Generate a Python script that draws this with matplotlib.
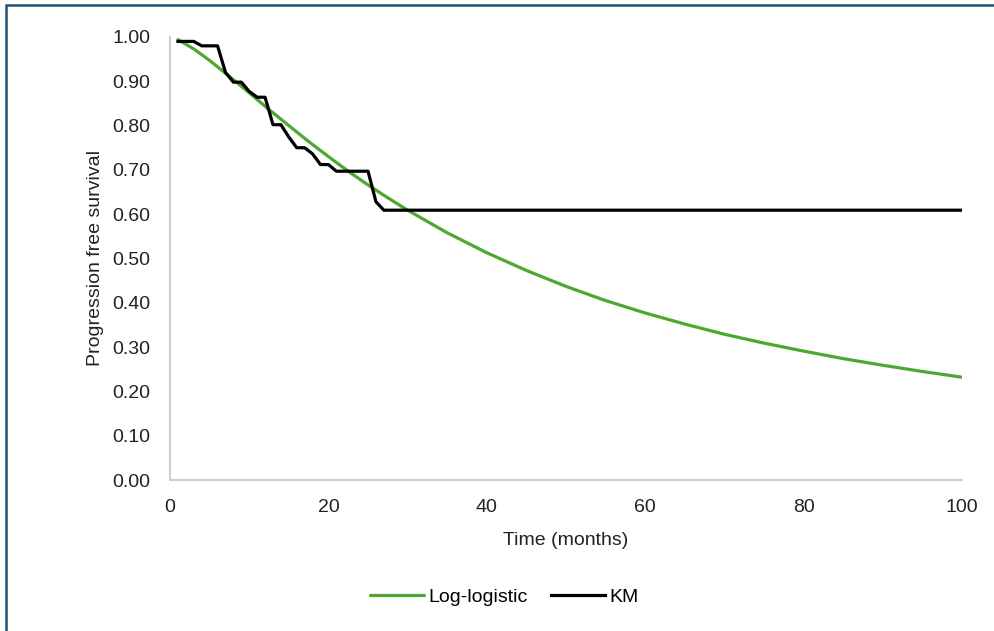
import matplotlib.pyplot as plt
from matplotlib.patches import Rectangle

# Log-logistic fitted curve
ll_months = [1, 3, 5, 7.5, 10, 12.5, 15, 17.5, 20, 22.5, 25, 27.5, 30, 35, 40, 45,
             50, 55, 60, 65, 70, 75, 80, 85, 90, 95, 100]
ll_surv = [0.994, 0.973, 0.947, 0.911, 0.874, 0.836, 0.800, 0.764, 0.730, 0.697,
           0.666, 0.637, 0.609, 0.558, 0.513, 0.473, 0.437, 0.405, 0.377, 0.352,
           0.329, 0.309, 0.291, 0.274, 0.259, 0.245, 0.232]

# Kaplan-Meier estimate (monthly points)
km_months = [1, 2, 3, 4, 5, 6, 7, 8, 9, 10, 11, 12, 13, 14, 15, 16, 17, 18, 19,
             20, 21, 22, 23, 24, 25, 26, 27, 100]
km_surv = [0.990, 0.990, 0.990, 0.980, 0.980, 0.980, 0.920, 0.898, 0.898, 0.877,
           0.864, 0.864, 0.802, 0.802, 0.774, 0.750, 0.750, 0.736, 0.712, 0.712,
           0.697, 0.697, 0.697, 0.697, 0.697, 0.628, 0.609, 0.609]

x_ticks = [0, 20, 40, 60, 80, 100]
y_ticks = [0.0, 0.1, 0.2, 0.3, 0.4, 0.5, 0.6, 0.7, 0.8, 0.9, 1.0]

plt.rcParams['font.family'] = ['Liberation Sans', 'DejaVu Sans']

fig = plt.figure(figsize=(9.95, 6.31), dpi=100)
ax = fig.add_axes([0.1709, 0.2393, 0.7959, 0.7021])

ax.plot(ll_months, ll_surv, color='#4ea72e', linewidth=2.3, label='Log-logistic',
        solid_capstyle='round')
ax.plot(km_months, km_surv, color='black', linewidth=2.3, label='KM',
        solid_joinstyle='round')

ax.set_xlim(0, 100)
ax.set_ylim(0, 1)
ax.set_xticks(x_ticks)
ax.set_yticks(y_ticks)
ax.set_yticklabels([f'{v:.2f}' for v in y_ticks])
ax.tick_params(length=0, labelsize=14, colors='#222222')
ax.tick_params(axis='y', pad=14)
ax.tick_params(axis='x', pad=14)

for side in ['top', 'right']:
    ax.spines[side].set_visible(False)
for side in ['left', 'bottom']:
    ax.spines[side].set_color('#c8c8c8')
    ax.spines[side].set_linewidth(1.3)

ax.set_xlabel('Time (months)', fontsize=14, color='#222222', labelpad=11)
ax.set_ylabel('Progression free survival', fontsize=14, color='#222222', labelpad=6)

fig.legend(loc='center', bbox_to_anchor=(0.507, 0.054), ncol=2, frameon=False,
           fontsize=14, handlelength=2.75, handletextpad=0.25, columnspacing=1.2)

# chart frame (only top and left edges are visible in the crop)
fig.patches.append(Rectangle((0.006, -0.1), 1.2, 1.092, transform=fig.transFigure,
                             fill=False, edgecolor='#1f5573', linewidth=1.8))

fig.savefig('out.png', dpi=100)
